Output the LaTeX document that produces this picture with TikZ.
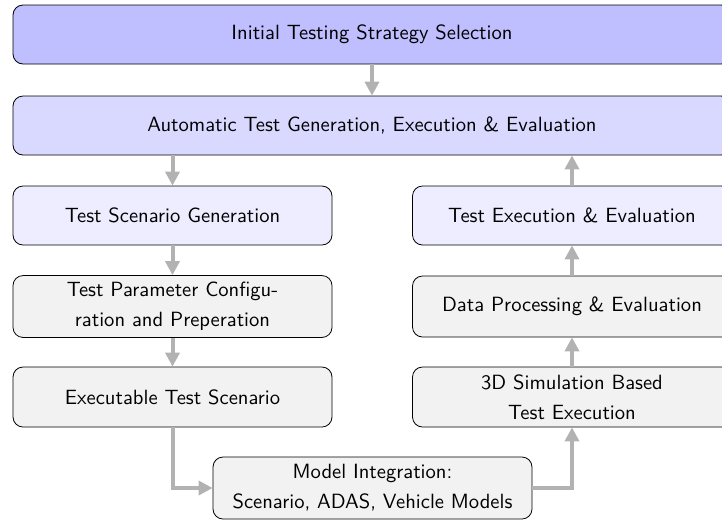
\documentclass[tikz,border=0pt]{standalone}
\usepackage{tikz}
\usetikzlibrary{arrows.meta}

\begin{document}
\begin{tikzpicture}[x=0.5pt, y=-0.5pt,
  box/.style = {draw, rounded corners=5pt, align=center, minimum height=29.5pt,
                font=\sffamily\fontsize{10.3}{15}\selectfont},
  wide/.style = {box, minimum width=359pt},
  col/.style = {box, minimum width=159.5pt},
  flow/.style = {draw=gray!60, line width=2pt, -{Triangle[length=7pt, width=7pt]}}]
\useasboundingbox (0,0) rectangle (722,521);

\node[wide, fill=blue!25] (init) at (372,34.5) {Initial Testing Strategy Selection};
\node[wide, fill=blue!15] (auto) at (372,125.5) {Automatic Test Generation, Execution \& Evaluation};

\node[col, fill=blue!7] (scen) at (172.5,215.5) {Test Scenario Generation};
\node[col, fill=gray!10, minimum height=30.5pt] (param) at (172.5,306.5) {Test Parameter Configu-\\ration and Preperation};
\node[col, fill=gray!10, minimum height=30pt] (exe) at (172.5,397) {Executable Test Scenario};

\node[col, fill=blue!7] (run) at (572,215.5) {Test Execution \& Evaluation};
\node[col, fill=gray!10, minimum height=30.5pt] (proc) at (572,306.5) {Data Processing \& Evaluation};
\node[col, fill=gray!10, minimum height=30pt] (sim) at (572,397) {3D Simulation Based\\Test Execution};

\node[col, fill=gray!10, minimum height=31pt] (model) at (372.5,488) {Model Integration:\\Scenario, ADAS, Vehicle Models};

\draw[flow] (init) -- (auto);
\draw[flow] (scen.north |- auto.south) -- (scen);
\draw[flow] (scen) -- (param);
\draw[flow] (param) -- (exe);
\draw[flow] (exe) |- (model);
\draw[flow] (model) -| (sim);
\draw[flow] (sim) -- (proc);
\draw[flow] (proc) -- (run);
\draw[flow] (run) -- (run.north |- auto.south);
\end{tikzpicture}
\end{document}
